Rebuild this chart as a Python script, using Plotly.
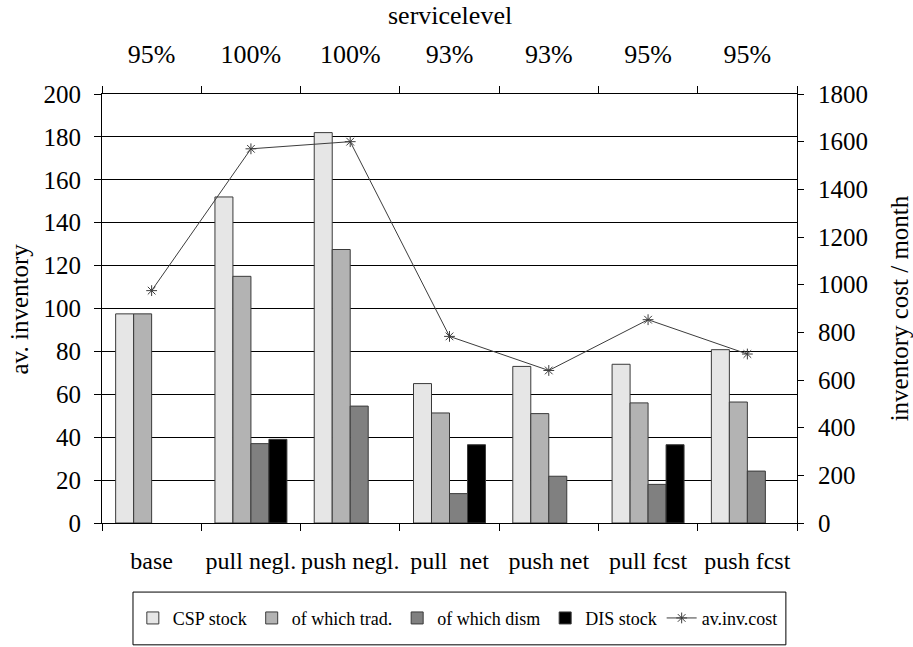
import plotly.graph_objects as go

# Scenario categories and their service levels
scenarios = ["base", "pull negl.", "push negl.", "pull  net", "push net", "pull fcst", "push fcst"]
service_levels = ["95%", "100%", "100%", "93%", "93%", "95%", "95%"]

# Average inventory per scenario (left axis)
csp_stock = [97.5, 152, 182, 65, 73, 74, 80.8]
of_which_trad = [97.5, 115, 127.5, 51.3, 51, 56, 56.4]
of_which_dism = [None, 37, 54.5, 13.7, 21.8, 18, 24.2]
dis_stock = [None, 39, None, 36.5, None, 36.5, None]

# Average inventory cost per month (right axis)
av_inv_cost = [975, 1570, 1600, 783, 640, 853, 709]

FONT = "Liberation Serif, Times New Roman, DejaVu Serif, serif"
BAR_LINE = dict(color="#3a3a3a", width=1)

fig = go.Figure()

bar_series = [
    ("CSP stock", csp_stock, "#e6e6e6"),
    ("of which trad.", of_which_trad, "#b3b3b3"),
    ("of which dism", of_which_dism, "#808080"),
    ("DIS stock", dis_stock, "#000000"),
]
for name, vals, col in bar_series:
    fig.add_trace(go.Bar(
        x=scenarios, y=vals, name=name,
        marker=dict(color=col, line=BAR_LINE),
        xaxis="x", yaxis="y",
    ))

fig.add_trace(go.Scatter(
    x=scenarios, y=av_inv_cost, name="av.inv.cost",
    mode="lines+markers",
    line=dict(color="#3c3c3c", width=1),
    marker=dict(symbol="asterisk-open", size=9, color="#3c3c3c",
                line=dict(color="#3c3c3c", width=1)),
    xaxis="x", yaxis="y2",
))

# Carrier for the top (service level) axis
fig.add_trace(go.Scatter(
    x=scenarios, y=[None] * len(scenarios), xaxis="x2", yaxis="y",
    showlegend=False, hoverinfo="skip", mode="lines",
))

fig.update_layout(
    width=913, height=647,
    margin=dict(l=102, r=116, t=94, b=124, autoexpand=False),
    paper_bgcolor="white", plot_bgcolor="white",
    font=dict(family=FONT, size=25, color="black"),
    barmode="group", bargap=0.275, bargroupgap=0,
    showlegend=True,
    legend=dict(
        orientation="h", x=0.512, xanchor="center", y=-0.222, yanchor="middle",
        borderwidth=0, bgcolor="rgba(0,0,0,0)",
        font=dict(family=FONT, size=18, color="black"),
        itemwidth=30, traceorder="normal",
    ),
    xaxis=dict(
        type="category", categoryorder="array", categoryarray=scenarios,
        range=[-0.5, 6.5], tickangle=0, automargin=False,
        showline=True, linecolor="black", linewidth=1,
        ticks="outside", ticklen=7, tickcolor="black", tickson="boundaries",
        ticklabelstandoff=16, showgrid=False, zeroline=False,
        tickfont=dict(family=FONT, size=24),
    ),
    xaxis2=dict(
        type="category", categoryorder="array", categoryarray=scenarios,
        range=[-0.5, 6.5], overlaying="x", side="top", anchor="y", tickangle=0,
        tickmode="array", tickvals=scenarios, ticktext=service_levels,
        automargin=False,
        showline=True, linecolor="black", linewidth=1,
        ticks="outside", ticklen=7, tickcolor="black", tickson="boundaries",
        ticklabelstandoff=20, showgrid=False, zeroline=False,
        tickfont=dict(family=FONT, size=26),
    ),
    yaxis=dict(
        range=[0, 200], dtick=20, showline=True, linecolor="black", linewidth=1,
        ticks="outside", ticklen=7, tickcolor="black", automargin=False,
        showgrid=True, gridcolor="black", gridwidth=1, zeroline=False,
        ticklabelstandoff=8, tickfont=dict(family=FONT, size=25),
    ),
    yaxis2=dict(
        range=[0, 1800], dtick=200, overlaying="y", side="right",
        showline=True, linecolor="black", linewidth=1, automargin=False,
        ticks="outside", ticklen=6, tickcolor="black",
        showgrid=False, zeroline=False,
        ticklabelstandoff=9, tickfont=dict(family=FONT, size=25),
    ),
    shapes=[
        # frame around the legend
        dict(type="rect", xref="paper", yref="paper",
             x0=0.0446, x1=0.984, y0=-0.284, y1=-0.161,
             line=dict(color="black", width=1), fillcolor="rgba(0,0,0,0)"),
    ],
    annotations=[
        dict(text="servicelevel", xref="paper", yref="paper", x=0.5, y=1.184,
             yanchor="middle", showarrow=False, font=dict(family=FONT, size=26)),
        dict(text="av. inventory", xref="paper", yref="paper", x=-0.118, y=0.5,
             xanchor="center", yanchor="middle",
             textangle=-90, showarrow=False, font=dict(family=FONT, size=25)),
        dict(text="inventory cost / month", xref="paper", yref="paper", x=1.148, y=0.5,
             xanchor="center", yanchor="middle",
             textangle=-90, showarrow=False, font=dict(family=FONT, size=25)),
    ],
)

fig.write_html("out.html")
